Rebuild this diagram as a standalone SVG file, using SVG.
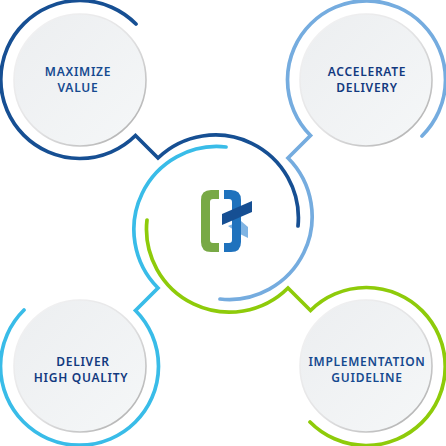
<svg xmlns="http://www.w3.org/2000/svg" width="446" height="446" viewBox="0 0 446 446">
<style>
.ring{fill:none;stroke-width:3.7;stroke-linejoin:miter;stroke-linecap:round}
.disc{fill:url(#discFill);stroke:url(#discEdge);stroke-width:1.6}
text{font-family:"Noto Sans","Liberation Sans",sans-serif;font-size:12px;font-weight:600;letter-spacing:0.72px;text-anchor:middle}
.a{fill:#164a90}.b{fill:#12397f}
</style>
<defs>
<linearGradient id="discFill" x1="0" y1="0" x2="1" y2="1"><stop offset="0" stop-color="#eceef0"/><stop offset="1" stop-color="#f5f7f8"/></linearGradient>
<linearGradient id="discEdge" x1="0.15" y1="0.15" x2="0.85" y2="0.85"><stop offset="0" stop-color="#f0f0f1"/><stop offset="0.55" stop-color="#e2e2e3"/><stop offset="1" stop-color="#b9b9b9"/></linearGradient>
</defs>
<g id="connectors">
<path class="ring" stroke="#164f93" d="M136 24A79 79 0 1 0 135.500 135.500L158 158A83 83 0 0 1 298 226"/>
<path class="ring" stroke="#75acdf" d="M422 136A79 79 0 1 0 310.500 135.500L288 158A83 83 0 0 1 220 299"/>
<path class="ring" stroke="#8ecb0a" d="M310 422A79 79 0 1 0 310.500 310.500L288 288A83 83 0 0 1 147 220"/>
<path class="ring" stroke="#39bce8" d="M24 310A79 79 0 1 0 135.500 310.500L158 288A83 83 0 0 1 226 147"/>
</g>
<g id="node-maximize"><circle class="disc" cx="80" cy="80" r="66"/><text class="a" x="78" y="76">MAXIMIZE</text><text class="a" x="78" y="92">VALUE</text></g>
<g id="node-accelerate"><circle class="disc" cx="366" cy="80" r="66"/><text class="b" x="367" y="76">ACCELERATE</text><text class="b" x="367" y="92">DELIVERY</text></g>
<g id="node-deliver"><circle class="disc" cx="80" cy="366" r="66"/><text class="b" x="83" y="366">DELIVER</text><text class="b" x="81" y="382">HIGH QUALITY</text></g>
<g id="node-implementation"><circle class="disc" cx="366" cy="366" r="66"/><text class="a" x="367" y="366">IMPLEMENTATION</text><text class="a" x="367" y="382">GUIDELINE</text></g>
<g id="logo">
<path fill="#78a945" d="M219 190H211Q201 190 201 200V242Q201 252 211 252H219V243H213Q210 243 210 240V202Q210 199 213 199H219Z"/>
<path fill="#80b4e3" d="M228 226L241 221L248 227V238L240 234Z"/>
<path fill="#1f72bd" d="M224 190H231Q241 190 241 200V242Q241 252 231 252H224V243H229Q232 243 232 240V202Q232 199 229 199H224Z"/>
<path fill="#164f93" d="M222 214L252 201V212L222 225Z"/>
</g>
</svg>
